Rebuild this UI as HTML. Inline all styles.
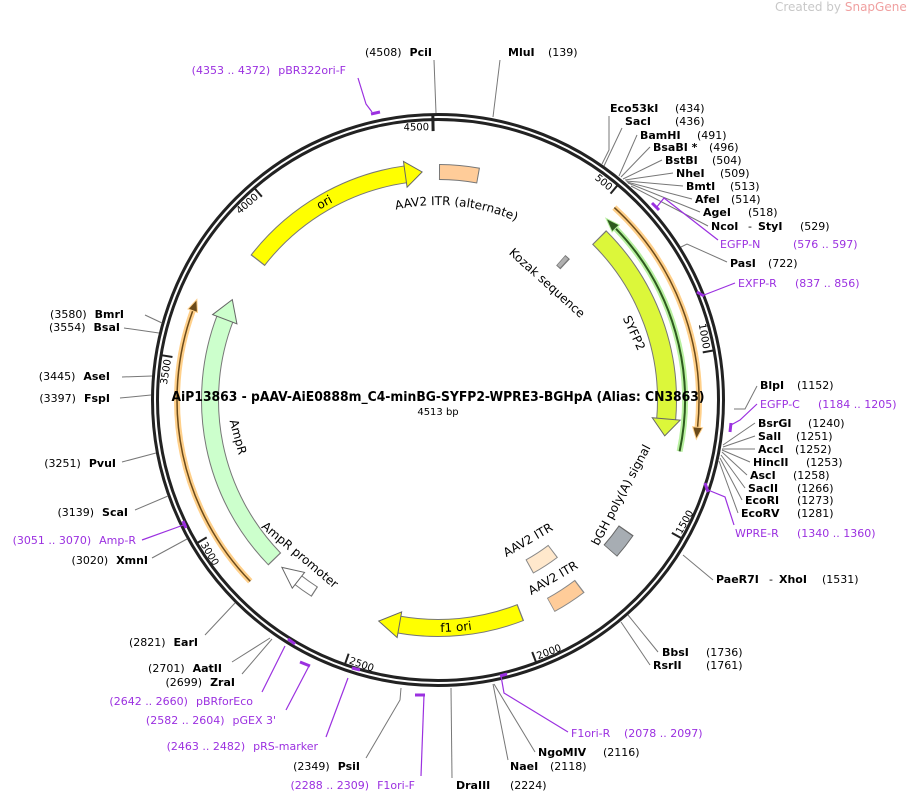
<!DOCTYPE html>
<html><head><meta charset="utf-8"><style>
html,body{margin:0;padding:0;background:#fff}
svg{display:block;font-family:"DejaVu Sans","Liberation Sans",sans-serif}
.e{font-size:11px;fill:#000}
.b{font-weight:bold}
.p{fill:#9b30e0}
.l{stroke:#777;stroke-width:1;fill:none}
.pl{stroke:#9b30e0;stroke-width:1.2;fill:none}
.pm{stroke:#9b30e0;stroke-width:3;fill:none}
.t{font-size:10px;fill:#000}
</style></head><body>
<svg width="910" height="802" viewBox="0 0 910 802" xmlns="http://www.w3.org/2000/svg">
<defs>
<path id="cw228" d="M438,172 A228,228 0 1 1 438,628 A228,228 0 1 1 438,172"/>
<path id="cw195" d="M243,400 A195,195 0 1 1 633,400 A195,195 0 1 1 243,400"/>
<path id="ccw228" d="M438,628 A228,228 0 1 0 438,172 A228,228 0 1 0 438,628"/>
</defs>
<text x="775" y="11" font-size="12" fill="#c8c8c8">Created by <tspan fill="#f0a0a0">SnapGene</tspan></text>

<circle cx="438" cy="400" r="285.5" fill="none" stroke="#222" stroke-width="3"/>
<circle cx="438" cy="400" r="280.5" fill="none" stroke="#222" stroke-width="3"/>

<g class="t">
<g transform="rotate(39.9 438 400)"><line x1="438" y1="119" x2="438" y2="131" stroke="#222" stroke-width="2"/><text x="435" y="130" text-anchor="end">500</text></g>
<g transform="rotate(79.8 438 400)"><line x1="438" y1="119" x2="438" y2="131" stroke="#222" stroke-width="2"/><text x="435" y="130" text-anchor="end">1000</text></g>
<g transform="rotate(279.2 438 400)"><line x1="438" y1="119" x2="438" y2="131" stroke="#222" stroke-width="2"/><text x="435" y="130" text-anchor="end">3500</text></g>
<g transform="rotate(319.1 438 400)"><line x1="438" y1="119" x2="438" y2="131" stroke="#222" stroke-width="2"/><text x="435" y="130" text-anchor="end">4000</text></g>
<g transform="rotate(358.96 438 400)"><line x1="438" y1="115" x2="438" y2="131" stroke="#222" stroke-width="3"/><text x="434" y="130" text-anchor="end">4500</text></g>
<g transform="rotate(-60.4 438 400)"><line x1="438" y1="669" x2="438" y2="681" stroke="#222" stroke-width="2"/><text x="441" y="678">1500</text></g>
<g transform="rotate(-20.5 438 400)"><line x1="438" y1="669" x2="438" y2="681" stroke="#222" stroke-width="2"/><text x="441" y="678">2000</text></g>
<g transform="rotate(19.4 438 400)"><line x1="438" y1="669" x2="438" y2="681" stroke="#222" stroke-width="2"/><text x="441" y="678">2500</text></g>
<g transform="rotate(59.3 438 400)"><line x1="438" y1="669" x2="438" y2="681" stroke="#222" stroke-width="2"/><text x="441" y="678">3000</text></g>
</g>

<g fill="none">
<circle cx="438" cy="400" r="228" stroke="#777" stroke-width="18" stroke-dasharray="177 2000" transform="rotate(217.7 438 400)"/>
<circle cx="438" cy="400" r="228" stroke="#ffff00" stroke-width="16" stroke-dasharray="175.1 2000" transform="rotate(218 438 400)"/>
<circle cx="438" cy="400" r="228" stroke="#777" stroke-width="16" stroke-dasharray="39.8 2000" transform="rotate(-89.75 438 400)"/>
<circle cx="438" cy="400" r="228" stroke="#ffcc99" stroke-width="14" stroke-dasharray="37.8 2000" transform="rotate(-89.5 438 400)"/>
<circle cx="438" cy="400" r="229" stroke="#777" stroke-width="20" stroke-dasharray="202 2000" transform="rotate(-45.3 438 400)"/>
<circle cx="438" cy="400" r="229" stroke="#dcf73a" stroke-width="18" stroke-dasharray="199.9 2000" transform="rotate(-45 438 400)"/>
<circle cx="438" cy="400" r="247" stroke="#b8f0a0" stroke-width="6" stroke-dasharray="241.4 2000" transform="rotate(-44 438 400)"/>
<circle cx="438" cy="400" r="247" stroke="#2d5a1e" stroke-width="2" stroke-dasharray="241.4 2000" transform="rotate(-44 438 400)"/>
<circle cx="438" cy="400" r="261" stroke="#ffd08a" stroke-width="6" stroke-dasharray="243.7 2000" transform="rotate(-47.5 438 400)"/>
<circle cx="438" cy="400" r="261" stroke="#6b4a1a" stroke-width="1.5" stroke-dasharray="243.7 2000" transform="rotate(-47.5 438 400)"/>
<circle cx="438" cy="400" r="261" stroke="#ffd08a" stroke-width="6" stroke-dasharray="291.5 2000" transform="rotate(136 438 400)"/>
<circle cx="438" cy="400" r="261" stroke="#6b4a1a" stroke-width="1.5" stroke-dasharray="291.5 2000" transform="rotate(136 438 400)"/>
<circle cx="438" cy="400" r="228" stroke="#777" stroke-width="18" stroke-dasharray="260.6 2000" transform="rotate(135.7 438 400)"/>
<circle cx="438" cy="400" r="228" stroke="#ccffcc" stroke-width="16" stroke-dasharray="258.6 2000" transform="rotate(136 438 400)"/>
<circle cx="438" cy="400" r="228" stroke="#777" stroke-width="12" stroke-dasharray="21.9 2000" transform="rotate(122.7 438 400)"/>
<circle cx="438" cy="400" r="228" stroke="#fff" stroke-width="10" stroke-dasharray="19.9 2000" transform="rotate(123 438 400)"/>
<circle cx="438" cy="400" r="228" stroke="#777" stroke-width="18" stroke-dasharray="125.3 2000" transform="rotate(68.7 438 400)"/>
<circle cx="438" cy="400" r="228" stroke="#ffff00" stroke-width="16" stroke-dasharray="123.3 2000" transform="rotate(69 438 400)"/>
<circle cx="438" cy="400" r="229" stroke="#666" stroke-width="18" stroke-dasharray="26 2000" transform="rotate(34.7 438 400)"/>
<circle cx="438" cy="400" r="229" stroke="#a7adb3" stroke-width="16" stroke-dasharray="24 2000" transform="rotate(35 438 400)"/>
<circle cx="438" cy="400" r="190" stroke="#888" stroke-width="16" stroke-dasharray="28.5 2000" transform="rotate(52.7 438 400)"/>
<circle cx="438" cy="400" r="190" stroke="#ffe8cc" stroke-width="14" stroke-dasharray="26.5 2000" transform="rotate(53 438 400)"/>
<circle cx="438" cy="400" r="234" stroke="#888" stroke-width="16" stroke-dasharray="34.7 2000" transform="rotate(52.7 438 400)"/>
<circle cx="438" cy="400" r="234" stroke="#ffcc99" stroke-width="14" stroke-dasharray="32.7 2000" transform="rotate(53 438 400)"/>
<circle cx="438" cy="400" r="186" stroke="#777" stroke-width="14" stroke-dasharray="6 2000" transform="rotate(-48.7 438 400)"/>
<circle cx="438" cy="400" r="186" stroke="#b0b0b0" stroke-width="12" stroke-dasharray="4 2000" transform="rotate(-48.5 438 400)"/>
</g>
<g stroke="#666" stroke-width="1">
<polygon points="437,159 454,172 437,185" fill="#ffff00" transform="rotate(352 438 400)"/>
<polygon points="437,157 454,171 437,185" fill="#dcf73a" transform="rotate(95 438 400)"/>
<polygon points="437,159 458,172 437,185" fill="#ccffcc" transform="rotate(291 438 400)"/>
<polygon points="437,162 458,172 437,182" fill="#fff" transform="rotate(218 438 400)"/>
<polygon points="437,159 458,172 437,185" fill="#ffff00" transform="rotate(190 438 400)"/>
</g>
<polygon points="438,134 450,139 438,144" fill="#6b4a1a" stroke="#ffd08a" stroke-width="1" transform="rotate(96 438 400)"/>
<polygon points="438,134 450,139 438,144" fill="#6b4a1a" stroke="#ffd08a" stroke-width="1" transform="rotate(290 438 400)"/>
<polygon points="438,148 424,153 438,158" fill="#2d5a1e" stroke="#b8f0a0" stroke-width="1" transform="rotate(46 438 400)"/>

<g font-size="12" fill="#000">
<text text-anchor="middle" dy="4"><textPath href="#cw228" startOffset="1313">ori</textPath></text>
<text text-anchor="middle"><textPath href="#cw195" startOffset="325">AAV2 ITR (alternate)</textPath></text>
<text text-anchor="middle" dy="4"><textPath href="#ccw228" startOffset="18">f1 ori</textPath></text>
<text x="547" y="287" text-anchor="middle" transform="rotate(42 547 283)">Kozak sequence</text>
<text x="634" y="337" text-anchor="middle" transform="rotate(65 634 333)">SYFP2</text>
<text x="621" y="499" text-anchor="middle" transform="rotate(-62 621 495)">bGH poly(A) signal</text>
<text x="528" y="544" text-anchor="middle" transform="rotate(-30 528 540)">AAV2 ITR</text>
<text x="553" y="582" text-anchor="middle" transform="rotate(-30 553 578)">AAV2 ITR</text>
<text x="300" y="559" text-anchor="middle" transform="rotate(40 300 555)">AmpR promoter</text>
<text x="238" y="441" text-anchor="middle" transform="rotate(75 238 437)">AmpR</text>
</g>

<text x="438" y="401" text-anchor="middle" font-size="13" font-weight="bold" textLength="533" lengthAdjust="spacingAndGlyphs">AiP13863 - pAAV-AiE0888m_C4-minBG-SYFP2-WPRE3-BGHpA  (Alias: CN3863)</text>
<text x="438" y="415" text-anchor="middle" font-size="10">4513 bp</text>

<g class="l">
<line x1="434" y1="60" x2="436" y2="113"/>
<line x1="500" y1="60" x2="493" y2="117"/>
<polyline points="609,116 609,150 602,164"/>
<line x1="622" y1="128" x2="604" y2="166"/>
<line x1="637" y1="135" x2="619" y2="176"/>
<line x1="650" y1="147" x2="621" y2="177"/>
<line x1="662" y1="160" x2="623" y2="179"/>
<line x1="673" y1="173" x2="625" y2="180"/>
<line x1="683" y1="186" x2="626" y2="181"/>
<line x1="692" y1="199" x2="627" y2="182"/>
<line x1="700" y1="212" x2="628" y2="183"/>
<line x1="708" y1="226" x2="631" y2="186"/>
<polyline points="727,262 687,244 681,247"/>
<polyline points="757,386 745,409 734,409"/>
<line x1="755" y1="423" x2="723" y2="445"/>
<line x1="755" y1="436" x2="723" y2="447"/>
<line x1="755" y1="449" x2="722" y2="449"/>
<line x1="750" y1="462" x2="722" y2="450"/>
<line x1="747" y1="475" x2="722" y2="452"/>
<line x1="745" y1="488" x2="721" y2="455"/>
<line x1="742" y1="500" x2="720" y2="458"/>
<line x1="738" y1="513" x2="719" y2="461"/>
<line x1="713" y1="580" x2="683" y2="555"/>
<line x1="658" y1="652" x2="628" y2="615"/>
<line x1="650" y1="665" x2="621" y2="622"/>
<line x1="535" y1="752" x2="494" y2="684"/>
<line x1="508" y1="760" x2="493" y2="684"/>
<line x1="452" y1="778" x2="451" y2="688"/>
<polyline points="366,758 400,700 401,688"/>
<line x1="145" y1="315" x2="162" y2="323"/>
<line x1="124" y1="328" x2="159" y2="333"/>
<line x1="122" y1="377" x2="152" y2="376"/>
<line x1="120" y1="398" x2="151" y2="395"/>
<line x1="122" y1="462" x2="156" y2="453"/>
<line x1="135" y1="510" x2="168" y2="496"/>
<line x1="152" y1="558" x2="187" y2="539"/>
<line x1="205" y1="635" x2="235" y2="603"/>
<line x1="232" y1="662" x2="270" y2="638"/>
<line x1="242" y1="674" x2="272" y2="639"/>
</g>
<g>
<line class="pm" x1="371" y1="114" x2="380" y2="112"/>
<polyline class="pl" points="358,78 366,104 372,112"/>
<line class="pm" x1="652" y1="203" x2="659" y2="210"/>
<polyline class="pl" points="656,208 664,198 718,240"/>
<line class="pm" x1="697" y1="292" x2="704" y2="296"/>
<line class="pl" x1="704" y1="295" x2="735" y2="283"/>
<line class="pm" x1="731" y1="423" x2="730" y2="432"/>
<polyline class="pl" points="731,425 740,420 757,404"/>
<line class="pm" x1="705" y1="483" x2="708" y2="492"/>
<polyline class="pl" points="708,490 725,497 734,525"/>
<line class="pm" x1="500" y1="676" x2="507" y2="674"/>
<polyline class="pl" points="501,676 504,693 568,732"/>
<polyline class="pm" points="415,695 425,695"/>
<polyline class="pl" points="424,695 421,776"/>
<line class="pm" x1="352" y1="668" x2="360" y2="670"/>
<line class="pl" x1="348" y1="678" x2="326" y2="737"/>
<line class="pm" x1="300" y1="662" x2="310" y2="666"/>
<line class="pl" x1="309" y1="666" x2="286" y2="710"/>
<line class="pm" x1="288" y1="639" x2="295" y2="644"/>
<line class="pl" x1="285" y1="646" x2="262" y2="692"/>
<line class="pm" x1="183" y1="521" x2="186" y2="528"/>
<polyline class="pl" points="186,524 178,527 142,540"/>
</g>

<g class="e">
<text x="508" y="56"><tspan class="b">MluI</tspan><tspan x="548">(139)</tspan></text>
<text x="610" y="112"><tspan class="b">Eco53kI</tspan><tspan x="675">(434)</tspan></text>
<text x="625" y="125"><tspan class="b">SacI</tspan><tspan x="675">(436)</tspan></text>
<text x="640" y="139"><tspan class="b">BamHI</tspan><tspan x="697">(491)</tspan></text>
<text x="653" y="151"><tspan class="b">BsaBI *</tspan><tspan x="709">(496)</tspan></text>
<text x="665" y="164"><tspan class="b">BstBI</tspan><tspan x="712">(504)</tspan></text>
<text x="676" y="177"><tspan class="b">NheI</tspan><tspan x="720">(509)</tspan></text>
<text x="686" y="190"><tspan class="b">BmtI</tspan><tspan x="730">(513)</tspan></text>
<text x="695" y="203"><tspan class="b">AfeI</tspan><tspan x="731">(514)</tspan></text>
<text x="703" y="216"><tspan class="b">AgeI</tspan><tspan x="748">(518)</tspan></text>
<text x="711" y="230"><tspan class="b">NcoI</tspan><tspan x="748">-</tspan><tspan class="b" x="758">StyI</tspan><tspan x="800">(529)</tspan></text>
<text x="720" y="248" class="p">EGFP-N<tspan x="793">(576 .. 597)</tspan></text>
<text x="730" y="267"><tspan class="b">PasI</tspan><tspan x="768">(722)</tspan></text>
<text x="738" y="287" class="p">EXFP-R<tspan x="795">(837 .. 856)</tspan></text>
<text x="760" y="389"><tspan class="b">BlpI</tspan><tspan x="797">(1152)</tspan></text>
<text x="760" y="408" class="p">EGFP-C<tspan x="818">(1184 .. 1205)</tspan></text>
<text x="758" y="427"><tspan class="b">BsrGI</tspan><tspan x="808">(1240)</tspan></text>
<text x="758" y="440"><tspan class="b">SalI</tspan><tspan x="796">(1251)</tspan></text>
<text x="758" y="453"><tspan class="b">AccI</tspan><tspan x="795">(1252)</tspan></text>
<text x="753" y="466"><tspan class="b">HincII</tspan><tspan x="806">(1253)</tspan></text>
<text x="750" y="479"><tspan class="b">AscI</tspan><tspan x="793">(1258)</tspan></text>
<text x="748" y="492"><tspan class="b">SacII</tspan><tspan x="797">(1266)</tspan></text>
<text x="745" y="504"><tspan class="b">EcoRI</tspan><tspan x="797">(1273)</tspan></text>
<text x="741" y="517"><tspan class="b">EcoRV</tspan><tspan x="797">(1281)</tspan></text>
<text x="735" y="537" class="p">WPRE-R<tspan x="797">(1340 .. 1360)</tspan></text>
<text x="716" y="583"><tspan class="b">PaeR7I</tspan><tspan x="769">-</tspan><tspan class="b" x="779">XhoI</tspan><tspan x="822">(1531)</tspan></text>
<text x="662" y="656"><tspan class="b">BbsI</tspan><tspan x="706">(1736)</tspan></text>
<text x="653" y="669"><tspan class="b">RsrII</tspan><tspan x="706">(1761)</tspan></text>
<text x="571" y="737" class="p">F1ori-R<tspan x="624">(2078 .. 2097)</tspan></text>
<text x="538" y="756"><tspan class="b">NgoMIV</tspan><tspan x="603">(2116)</tspan></text>
<text x="510" y="770"><tspan class="b">NaeI</tspan><tspan x="550">(2118)</tspan></text>
<text x="456" y="789"><tspan class="b">DraIII</tspan><tspan x="510">(2224)</tspan></text>
</g>
<g class="e" text-anchor="end">
<text x="346" y="74" class="p">(4353 .. 4372)<tspan dx="8">pBR322ori-F</tspan></text>
<text x="432" y="56">(4508)<tspan class="b" dx="8">PciI</tspan></text>
<text x="124" y="318">(3580)<tspan class="b" dx="8">BmrI</tspan></text>
<text x="120" y="331">(3554)<tspan class="b" dx="8">BsaI</tspan></text>
<text x="110" y="380">(3445)<tspan class="b" dx="8">AseI</tspan></text>
<text x="110" y="402">(3397)<tspan class="b" dx="8">FspI</tspan></text>
<text x="116" y="467">(3251)<tspan class="b" dx="8">PvuI</tspan></text>
<text x="128" y="516">(3139)<tspan class="b" dx="8">ScaI</tspan></text>
<text x="136" y="544" class="p">(3051 .. 3070)<tspan dx="8">Amp-R</tspan></text>
<text x="148" y="564">(3020)<tspan class="b" dx="8">XmnI</tspan></text>
<text x="198" y="646">(2821)<tspan class="b" dx="8">EarI</tspan></text>
<text x="222" y="672">(2701)<tspan class="b" dx="8">AatII</tspan></text>
<text x="235" y="686">(2699)<tspan class="b" dx="8">ZraI</tspan></text>
<text x="253" y="705" class="p">(2642 .. 2660)<tspan dx="8">pBRforEco</tspan></text>
<text x="276" y="724" class="p">(2582 .. 2604)<tspan dx="8">pGEX 3'</tspan></text>
<text x="318" y="750" class="p">(2463 .. 2482)<tspan dx="8">pRS-marker</tspan></text>
<text x="360" y="770">(2349)<tspan class="b" dx="8">PsiI</tspan></text>
<text x="415" y="789" class="p">(2288 .. 2309)<tspan dx="8">F1ori-F</tspan></text>
</g>
</svg>
</body></html>
